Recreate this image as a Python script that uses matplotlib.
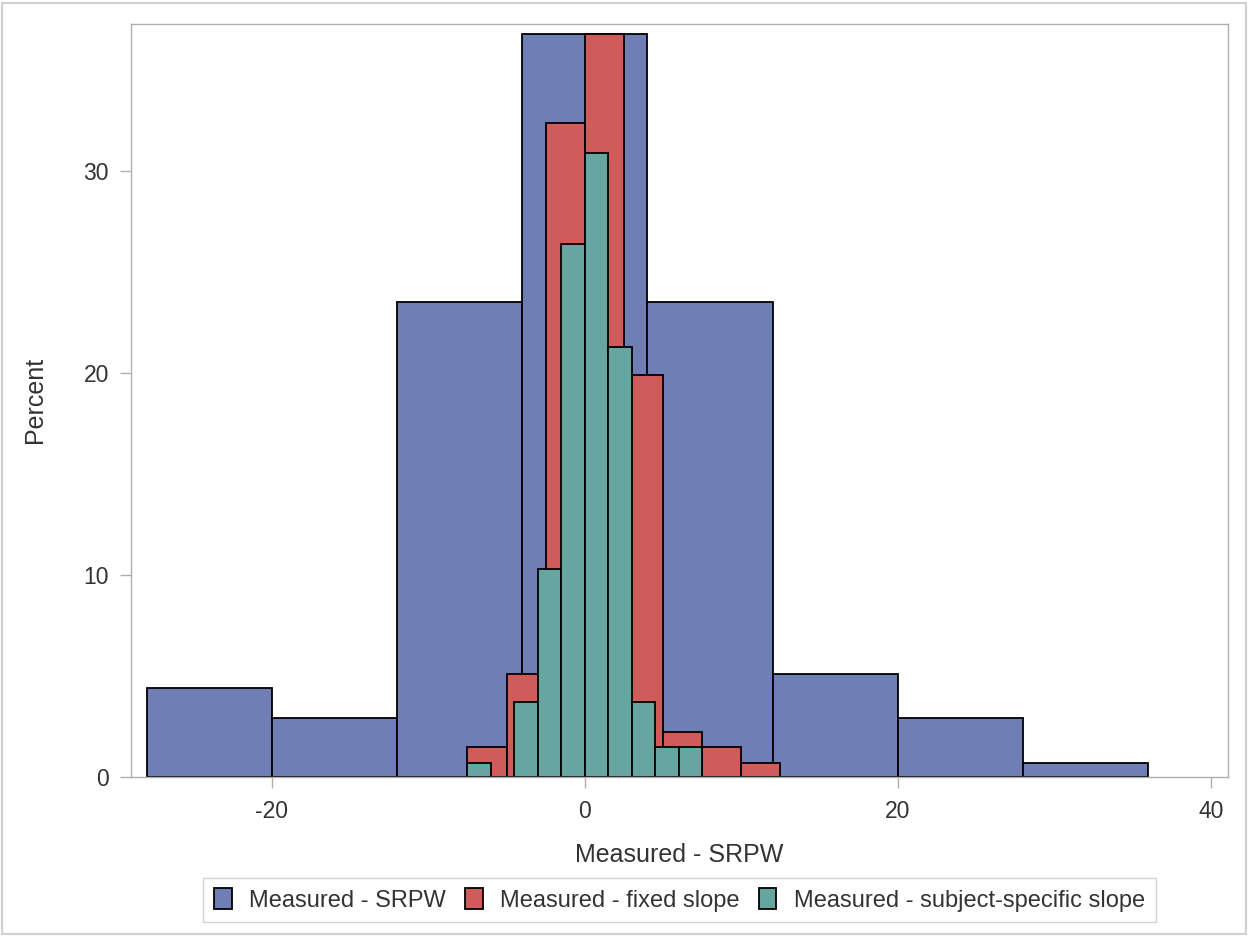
"""
Overlaid percent histograms of measured minus predicted values (SAS-style look).
"""

import matplotlib
matplotlib.use("Agg")
import matplotlib.pyplot as plt
from matplotlib.patches import Patch, Rectangle

# bin edges and percents
srpw_edges = [-28, -20, -12, -4, 4, 12, 20, 28, 36]
srpw_pct = [4.4, 2.9, 23.5, 36.8, 23.5, 5.1, 2.9, 0.7]

fixed_edges = [-7.5, -5, -2.5, 0, 2.5, 5, 7.5, 10, 12.5]
fixed_pct = [1.5, 5.1, 32.4, 36.8, 19.9, 2.2, 1.5, 0.7]

subj_edges = [-7.5, -6, -4.5, -3, -1.5, 0, 1.5, 3, 4.5, 6, 7.5]
subj_pct = [0.7, 0.0, 3.7, 10.3, 26.4, 30.9, 21.3, 3.7, 1.5, 1.5]

series_names = ["Measured - SRPW", "Measured - fixed slope",
                "Measured - subject-specific slope"]
colors = ["#6F7EB3", "#D05B5B", "#66A5A0"]

plt.rcParams["font.family"] = ["Liberation Sans", "DejaVu Sans"]
plt.rcParams["axes.unicode_minus"] = False

fig = plt.figure(figsize=(12.48, 9.36), dpi=100)
ax = fig.add_axes([0.105, 0.170, 0.879, 0.8046])

for edges, pct, col in [(srpw_edges, srpw_pct, colors[0]),
                        (fixed_edges, fixed_pct, colors[1]),
                        (subj_edges, subj_pct, colors[2])]:
    lefts = [edges[i] for i in range(len(pct)) if pct[i] > 0]
    widths = [edges[i + 1] - edges[i] for i in range(len(pct)) if pct[i] > 0]
    heights = [p for p in pct if p > 0]
    ax.bar(lefts, heights, width=widths, align="edge", color=col,
           edgecolor="black", linewidth=1.3)

ax.set_xlim(-29.0, 41.1)
ax.set_ylim(0, 37.3)
ax.set_xticks([-20, 0, 20, 40])
ax.set_yticks([0, 10, 20, 30])

frame_col = "#AFAFAF"
for side in ["left", "right", "top", "bottom"]:
    ax.spines[side].set_color(frame_col)
    ax.spines[side].set_linewidth(1.0)
ax.tick_params(axis="both", colors=frame_col, labelcolor="#333333",
               labelsize=16.5, length=8, width=1.0)
ax.tick_params(axis="x", pad=9)
ax.tick_params(axis="y", pad=8)

ax.set_xlabel("Measured - SRPW", fontsize=18, color="#333333", labelpad=14)
ax.set_ylabel("Percent", fontsize=18, color="#333333", labelpad=26)

# legend sits under the plot, centred on the axes (not the figure)
handles = [Patch(facecolor=c, edgecolor="black", linewidth=1.3) for c in colors]
leg = fig.legend(handles, series_names, loc="center", ncol=3,
                 bbox_to_anchor=(0.5445, 1 - 900 / 936), fontsize=17,
                 frameon=True, fancybox=False, handlelength=0.75,
                 handleheight=1.0, handletextpad=0.75, columnspacing=0.8,
                 borderpad=0.45, labelcolor="#333333")
leg.get_frame().set_edgecolor("#C8C8C8")
leg.get_frame().set_linewidth(1.0)

# thin outer border around the whole image
fig.patches.append(Rectangle((0.002, 0.002), 0.996, 0.995, transform=fig.transFigure,
                             fill=False, edgecolor="#D0D0D0", linewidth=1.5))

plt.savefig("out.png", dpi=100)
